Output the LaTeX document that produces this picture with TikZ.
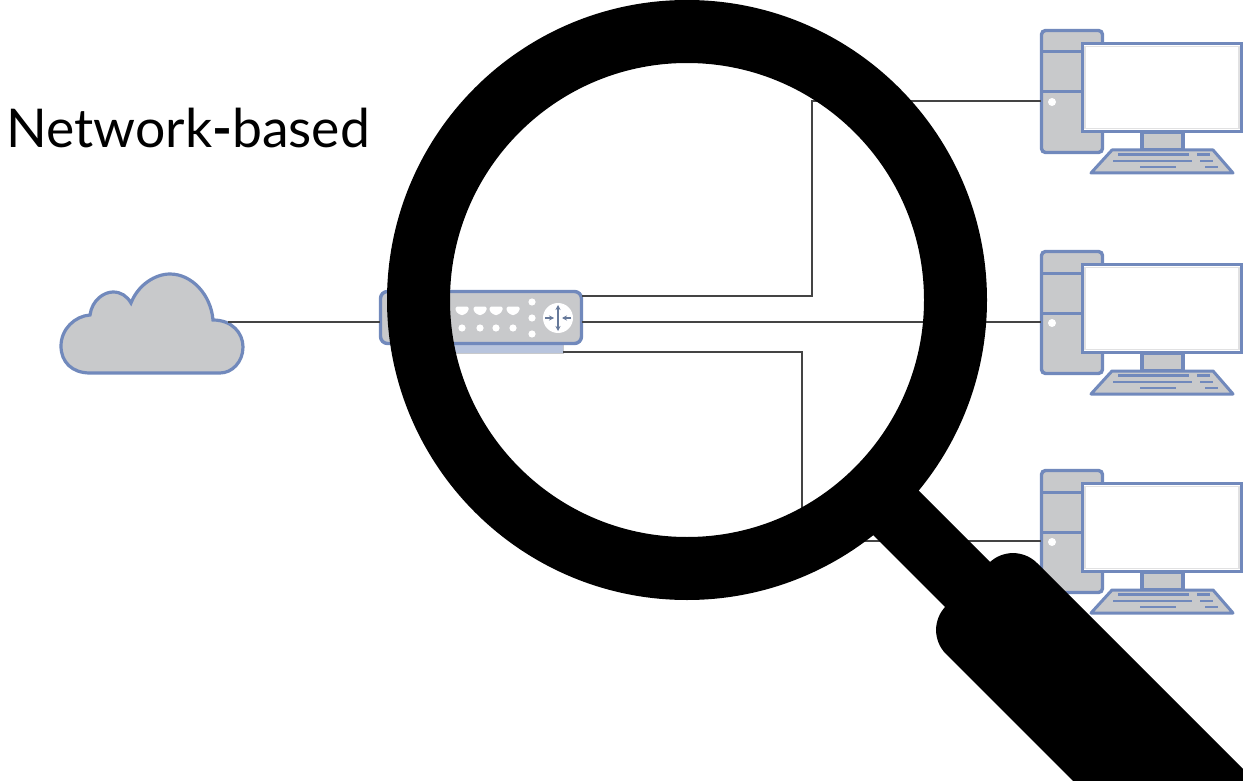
\documentclass[tikz,border=0pt]{standalone}
\usepackage{fontspec}
\setmainfont{Lato}
\usetikzlibrary{arrows.meta}
\definecolor{iconline}{HTML}{7189BC}
\definecolor{iconfill}{HTML}{C8C9CB}
\definecolor{wire}{HTML}{444444}
\definecolor{arrowgrey}{HTML}{66799A}
\tikzset{
  iconbox/.style={draw=iconline,fill=iconfill,line width=3.4pt,inner sep=0pt,outer sep=0pt},
  towerbox/.style={iconbox,rounded corners=4pt,minimum width=61pt,minimum height=122pt},
  screenbox/.style={iconbox,fill=white,minimum width=159pt,minimum height=88pt},
  standbox/.style={iconbox,minimum width=41pt,minimum height=18pt},
  keyrow/.style={draw=iconline,line width=2.6pt},
  wireline/.style={draw=wire,line width=2pt},
  portdot/.style={circle,fill=white,minimum size=8pt,inner sep=0pt,outer sep=0pt},
  labeltext/.style={font=\fontsize{53.5}{53.5}\selectfont,inner sep=0pt,anchor=base west}
}
\newcommand{\computer}[2]{%
  \begin{scope}[shift={(0,#2)}]
    \node[towerbox] (tower#1) at (1072,91.5) {};
    \draw[iconline,line width=3pt] (1042,52) -- (1082,52) (1042,92) -- (1082,92);
    \node[portdot] (button#1) at (1052,102) {};
    \coordinate (port#1) at (1041,101);
    \node[standbox] (stand#1) at (1162.5,141) {};
    \node[screenbox] (screen#1) at (1162,87.5) {};
    \draw[iconfill!55!white,line width=1.5pt] (1085,46.5) rectangle (1239,128.5);
    \draw[iconline,fill=iconfill,line width=3pt,line join=round] (1112,150) -- (1213,150) -- (1233,173) -- (1091,173) -- cycle;
    \draw[keyrow] (1118,154.5) -- (1189,154.5) (1197,154.5) -- (1210,154.5)
                  (1113,161) -- (1192,161) (1200,161) -- (1213,161)
                  (1140,167) -- (1176,167) (1205,167) -- (1218,167);
  \end{scope}}
\newcommand{\lanport}[2]{\fill[white,rounded corners=1.5pt] (#1-6.5,#2-3.5) -- (#1+6.5,#2-3.5) -- (#1+6.5,#2+1) -- (#1+2,#2+5) -- (#1-2,#2+5) -- (#1-6.5,#2+1) -- cycle;}
\begin{document}
\begin{tikzpicture}[x=1pt,y=-1pt]
  \useasboundingbox (0,0) rectangle (1243,781);
  \clip (0,0) rectangle (1243,781);
  \fill[white] (0,0) rectangle (1243,781);

  % label
  \node[labeltext] (title) at (6,148) {Network\textbf{-}based};

  % cloud
  \draw[iconline,fill=iconfill,line width=3.2pt]
    (90,373) .. controls (72,373) and (61,362) .. (61,346)
    .. controls (61,329) and (75,316) .. (90,315)
    .. controls (92,300) and (104,292) .. (113,292)
    .. controls (121,292) and (127,296) .. (131,303)
    .. controls (138,285) and (155,274) .. (170,274)
    .. controls (192,274) and (211,295) .. (213,320)
    .. controls (232,320) and (243,333) .. (243,347)
    .. controls (243,362) and (232,373) .. (220,373)
    -- cycle;
  \coordinate (cloudport) at (228,322);

  % router
  \node[iconbox,fill=iconline!50!white,minimum width=143pt,minimum height=11pt,line width=1pt,draw=iconfill] (routerbase) at (491.5,347.5) {};
  \node[iconbox,rounded corners=7pt,minimum width=201pt,minimum height=52pt] (router) at (481,317.5) {};
  \lanport{462}{310}\lanport{480}{310}\lanport{496}{310}\lanport{513}{310}
  \foreach \px in {462,480,496,513} \fill[white] (\px,328) circle [radius=3.6];
  \foreach \py in {302,318,334} \fill[white] (532,\py) circle [radius=3.6];
  \node[circle,fill=white,minimum size=30pt,inner sep=0pt] (routerdial) at (558,318) {};
  \draw[arrowgrey,line width=1.6pt,{Stealth[length=5pt,width=5pt]}-{Stealth[length=5pt,width=5pt]}] (558,305) -- (558,331);
  \draw[arrowgrey,line width=1.6pt,-{Stealth[length=5pt,width=5pt]}] (545,318) -- (554,318);
  \draw[arrowgrey,line width=1.6pt,-{Stealth[length=5pt,width=5pt]}] (571,318) -- (562,318);
  \coordinate (routerup) at (582,296);
  \coordinate (routermid) at (582,322);
  \coordinate (routerdown) at (563,352);
  \coordinate (routerwest) at (380,322);

  % computers
  \computer{a}{0}
  \computer{b}{221}
  \computer{c}{440}

  % connectors
  \draw[wireline] (cloudport) -- (routerwest);
  \draw[wireline] (routerup) -| (812,200) |- (porta);
  \draw[wireline] (routermid) -- (portb);
  \draw[wireline] (routerdown) -| (802,450) |- (portc);

  % magnifying glass
  \coordinate (lens) at (687,300);
  \draw[black,line width=63pt] (lens) circle [radius=268.5];
  \fill[black] (899,471) -- (994,566) -- (949,611) -- (854,516) -- cycle;
  \fill[black] (1437,963) [rounded corners=34pt] -- (1013,539) -- (922,630) [sharp corners] -- (1346,1054) -- cycle;
\end{tikzpicture}
\end{document}
